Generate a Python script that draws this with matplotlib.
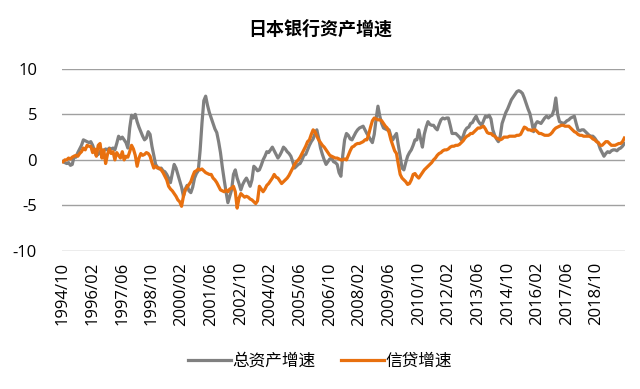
import matplotlib

matplotlib.use("Agg")
import matplotlib.pyplot as plt

plt.rcParams["font.family"] = ["Open Sans", "Noto Sans CJK SC", "DejaVu Sans"]
plt.rcParams["axes.unicode_minus"] = False

# monthly series, 1994/10 .. 2020/01
start_year, start_month = 1994, 10

total_assets = [
    -0.2, -0.3, -0.4,  # 1994
    -0.3, -0.6, -0.5, 0.4, 0.3, 0.8, 1.2, 1.6, 2.2, 2.1, 2.0, 1.9,  # 1995
    2.0, 1.6, 1.0, 0.5, 0.6, 0.9, 1.1, 1.0, 1.2, 1.1, 1.3, 1.2,  # 1996
    1.3, 1.1, 1.8, 2.6, 2.3, 2.5, 2.2, 1.9, 1.3, 3.5, 4.9, 4.6,  # 1997
    5.0, 4.2, 3.6, 3.1, 2.6, 2.2, 2.4, 3.1, 2.8, 1.5, 0.5, -0.5,  # 1998
    -0.8, -1.0, -0.9, -1.2, -1.3, -1.6, -2.0, -2.5, -1.5, -0.5, -0.9, -1.6,  # 1999
    -2.3, -3.0, -4.0, -3.2, -2.8, -3.4, -3.6, -3.0, -2.0, -1.5, -1.2, 1.0,  # 2000
    4.0, 6.5, 7.0, 6.0, 5.2, 4.6, 4.0, 3.4, 3.0, 2.0, 0.8, -0.8,  # 2001
    -2.2, -3.5, -4.7, -4.0, -3.3, -1.6, -1.1, -2.0, -2.6, -3.3, -2.7, -2.3,  # 2002
    -2.0, -2.4, -2.9, -2.2, -0.7, -0.9, -1.2, -1.1, -0.6, 0.0, 0.4, 0.9,  # 2003
    0.8, 1.1, 1.4, 1.0, 0.6, 0.2, 0.5, 0.9, 1.4, 1.2, 0.9, 0.7,  # 2004
    0.4, -0.2, -0.9, -0.7, -0.5, -0.4, 0.0, 0.5, 0.6, 1.1, 1.6, 2.0,  # 2005
    2.3, 2.9, 3.3, 2.4, 1.3, 0.6, 0.0, -0.5, -0.2, 0.1, 0.2, -0.2,  # 2006
    -0.3, -0.5, -1.4, -1.8, 0.5, 2.2, 2.9, 2.7, 2.3, 2.2, 2.6, 3.0,  # 2007
    3.3, 3.5, 3.6, 3.7, 3.3, 2.9, 2.6, 2.2, 1.9, 2.8, 4.5, 5.9,  # 2008
    4.8, 4.0, 3.5, 3.4, 3.3, 3.3, 2.6, 2.2, 2.6, 2.9, 1.6, 0.4,  # 2009
    -0.9, -1.1, -0.3, 0.4, 0.8, 1.1, 1.6, 2.2, 2.2, 3.3, 2.3, 1.4,  # 2010
    2.8, 3.6, 4.2, 3.9, 3.8, 3.8, 3.5, 3.3, 3.9, 4.4, 4.6, 4.5,  # 2011
    4.6, 4.6, 3.8, 2.9, 2.9, 2.9, 2.7, 2.5, 2.2, 2.6, 3.2, 3.5,  # 2012
    3.6, 4.0, 4.1, 4.5, 4.8, 4.3, 4.0, 3.8, 4.3, 4.8, 4.7, 4.9,  # 2013
    4.5, 3.3, 2.7, 2.3, 2.0, 2.6, 4.0, 4.6, 5.2, 5.6, 6.1, 6.6,  # 2014
    6.9, 7.2, 7.5, 7.6, 7.5, 7.3, 6.8, 6.2, 5.6, 5.1, 4.2, 3.1,  # 2015
    3.9, 4.2, 4.1, 4.0, 4.3, 4.6, 4.8, 4.6, 4.8, 4.9, 5.5, 6.8,  # 2016
    5.0, 4.2, 4.1, 4.0, 4.1, 4.3, 4.4, 4.6, 4.7, 4.8, 4.0, 3.3,  # 2017
    3.2, 3.3, 3.3, 3.1, 2.9, 2.7, 2.6, 2.6, 2.4, 2.1, 1.8, 1.2,  # 2018
    0.8, 0.4, 0.7, 0.9, 0.8, 1.0, 1.1, 1.1, 1.0, 1.2, 1.3, 1.5,  # 2019
    1.8,  # 2020
]

loans = [
    -0.2, 0.0, 0.0,  # 1994
    0.2, 0.1, 0.3, 0.4, 0.5, 0.4, 0.7, 0.9, 1.3, 1.1, 1.6, 1.5,  # 1995
    1.5, 0.8, 1.2, 0.4, 1.6, 1.8, 0.2, 1.1, -0.4, 0.6, 1.2, 0.7,  # 1996
    0.9, 0.0, 0.8, 0.5, 0.2, 0.9, 0.0, 0.4, 0.3, 0.9, 1.6, 1.2,  # 1997
    0.5, -0.7, 0.2, 0.7, 0.5, 0.6, 0.8, 0.7, 0.4, -0.3, -0.9, -0.7,  # 1998
    -0.9, -0.9, -1.1, -1.4, -1.8, -2.2, -2.9, -3.2, -3.4, -3.7, -4.0, -4.4,  # 1999
    -4.6, -5.1, -4.0, -3.3, -3.0, -2.7, -2.4, -1.8, -1.3, -1.2, -1.0, -1.1,  # 2000
    -1.0, -1.2, -1.4, -1.5, -1.6, -1.6, -2.0, -2.2, -2.5, -2.9, -3.3, -3.4,  # 2001
    -3.5, -3.3, -3.5, -3.2, -3.1, -2.9, -3.5, -5.3, -4.2, -3.7, -3.9, -4.1,  # 2002
    -4.0, -4.1, -4.3, -4.4, -4.6, -4.8, -4.5, -2.9, -3.2, -3.5, -3.2, -2.8,  # 2003
    -2.6, -2.3, -2.0, -1.6, -1.9, -2.0, -2.3, -2.6, -2.4, -2.2, -2.0, -1.7,  # 2004
    -1.3, -0.9, -0.5, -0.2, 0.0, 0.3, 0.7, 1.1, 1.5, 2.0, 2.2, 2.8,  # 2005
    3.3, 3.1, 2.6, 2.2, 1.9, 1.6, 1.4, 1.1, 0.8, 0.5, 0.4, 0.3,  # 2006
    0.2, 0.2, 0.1, 0.0, 0.0, 0.1, 0.0, 0.5, 1.0, 1.4, 1.5, 1.7,  # 2007
    1.8, 1.8, 1.9, 2.0, 2.2, 2.2, 2.8, 3.6, 4.3, 4.6, 4.5, 4.4,  # 2008
    4.4, 4.3, 4.0, 3.7, 3.5, 3.0, 2.2, 1.6, 1.0, 0.7, -0.5, -1.6,  # 2009
    -2.0, -2.2, -2.4, -2.7, -2.6, -2.2, -1.6, -1.5, -1.8, -2.0, -1.7, -1.4,  # 2010
    -1.1, -0.9, -0.7, -0.5, -0.3, 0.0, 0.2, 0.5, 0.7, 0.8, 1.0, 1.1,  # 2011
    1.1, 1.2, 1.4, 1.5, 1.5, 1.6, 1.6, 1.7, 1.9, 2.1, 2.4, 2.6,  # 2012
    2.7, 2.9, 2.9, 3.1, 3.3, 3.5, 3.5, 3.6, 3.7, 3.4, 3.0, 2.9,  # 2013
    2.9, 2.7, 2.6, 2.4, 2.3, 2.2, 2.3, 2.5, 2.5, 2.5, 2.6, 2.6,  # 2014
    2.6, 2.6, 2.7, 2.7, 2.8, 3.2, 3.6, 3.5, 3.3, 3.3, 3.2, 3.3,  # 2015
    3.3, 3.1, 2.9, 2.9, 2.8, 2.7, 2.7, 2.7, 2.8, 3.0, 3.3, 3.5,  # 2016
    3.6, 3.7, 3.8, 3.8, 3.7, 3.7, 3.7, 3.5, 3.3, 3.1, 3.0, 2.8,  # 2017
    2.7, 2.7, 2.6, 2.6, 2.6, 2.6, 2.5, 2.3, 2.2, 2.0, 1.9, 1.6,  # 2018
    1.6, 1.8, 2.0, 2.0, 1.8, 1.6, 1.6, 1.6, 1.7, 1.8, 1.8, 2.0,  # 2019
    2.4,  # 2020
]

title = "日本银行资产增速"
series_names = ["总资产增速", "信贷增速"]
label_step = 16


def month_label(i):
    total = start_year * 12 + (start_month - 1) + i
    return f"{total // 12}/{total % 12 + 1:02d}"


n = len(total_assets)
x = list(range(n))
tick_pos = list(range(0, n, label_step))
tick_labels = [month_label(i) for i in tick_pos]

fig = plt.figure(figsize=(6.4, 3.89), dpi=100)
ax = fig.add_axes([0.097, 0.355, 0.88, 0.468])

ax.plot(x, total_assets, color="#808080", lw=2.3, label=series_names[0], solid_joinstyle="round")
ax.plot(x, loans, color="#E8700F", lw=2.3, label=series_names[1], solid_joinstyle="round")

ax.set_ylim(-10, 10)
ax.set_yticks([-10, -5, 0, 5, 10])
ax.set_xlim(-0.5, n - 0.5)
ax.set_xticks(tick_pos)
ax.set_xticklabels(tick_labels, rotation=90)
ax.grid(axis="y", color="#A0A0A0", lw=1.0)
ax.set_axisbelow(True)
for spine in ax.spines.values():
    spine.set_visible(False)
ax.tick_params(axis="both", length=0, labelsize=12, colors="#000000")
ax.tick_params(axis="y", pad=18)
ax.tick_params(axis="x", pad=8)

fig.text(0.5, 0.925, title, ha="center", va="center", fontsize=13, fontweight="bold")
fig.legend(loc="center", bbox_to_anchor=(0.5, 0.07), ncol=2, frameon=False,
           fontsize=12, handlelength=2.6, columnspacing=1.5, handletextpad=0.1)

fig.savefig("out.png", dpi=100)
